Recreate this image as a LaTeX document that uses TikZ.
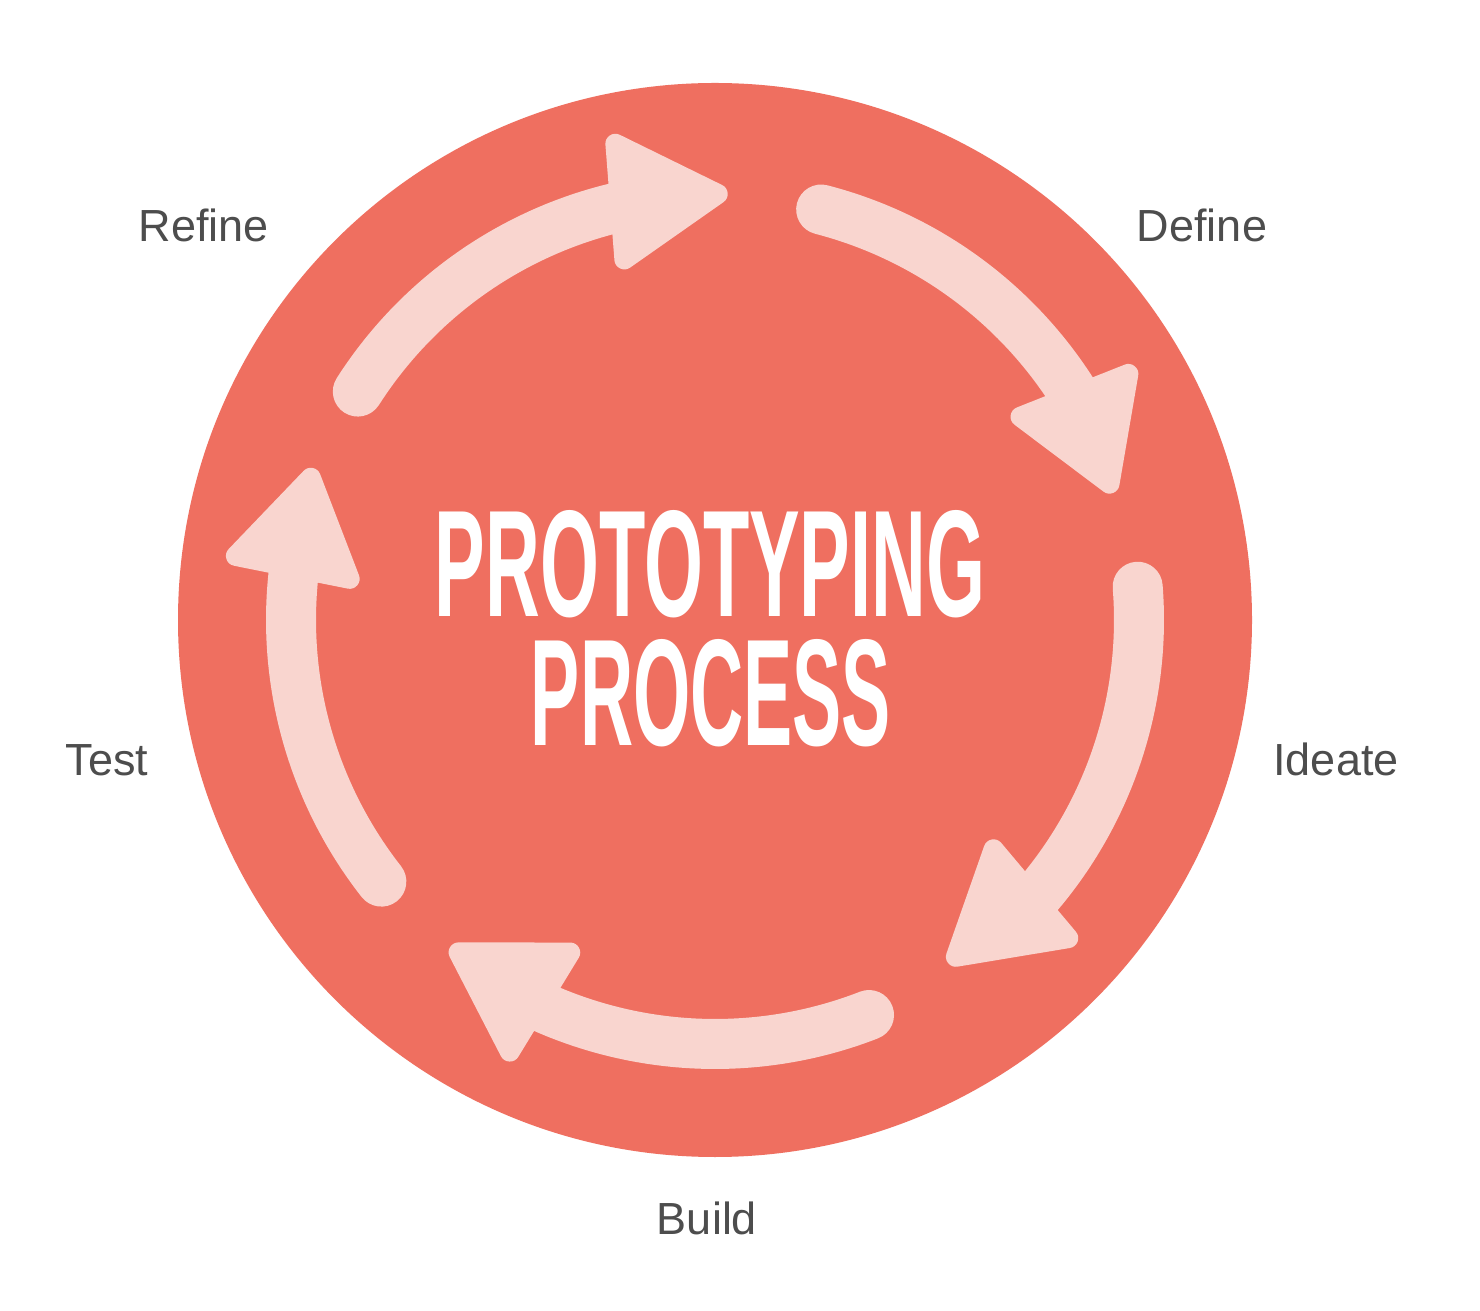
\documentclass[tikz,border=0pt]{standalone}
\usepackage{fontspec}
\usepackage{graphicx}
\setmainfont{Liberation Sans}
\usetikzlibrary{calc}
\definecolor{ringred}{HTML}{EF6F60}
\definecolor{palepink}{HTML}{F9D5CF}
\definecolor{labelgray}{HTML}{4D4D4D}
\begin{document}
\begin{tikzpicture}[x=1pt,y=1pt,
  lbl/.style={font=\fontsize{45}{54}\selectfont, text=labelgray, anchor=base, inner sep=0pt},
  titletext/.style={anchor=base, inner sep=0pt, text=white},
  band/.style={draw=palepink, line width=50pt, line cap=round},
  head/.style={fill=palepink, draw=palepink, line width=20pt, line join=round}]
\useasboundingbox (0,0) rectangle (1480,1310);
\fill[white] (0,0) rectangle (1480,1310);
\node[circle, fill=ringred, minimum size=1074pt, inner sep=0pt] (disc) at (715,690) {};
\begin{scope}[shift={(715,690)}]
\foreach \n/\aS/\aB/\rB/\aT/\rT in {1/147.4/103.6/430/88.3/427, 2/75.5/32.8/425/17.7/418, 3/4.5/-40.1/419/-55.8/415, 4/-68.7/-113.8/421/-129.0/421, 5/-141.9/-186.3/426/-200.7/430}{
  \coordinate (b\n) at (\aB:\rB);
  \coordinate (t\n) at (\aT:\rT);
  \coordinate (m\n) at ($(b\n)!6pt!(t\n)$);
  \draw[band] (\aS:424) arc[start angle=\aS, end angle=\aB-3, radius=424];
  \filldraw[head] (m\n) -- ($(m\n)!58pt!90:(t\n)$) -- ($(t\n)!10pt!(m\n)$) -- ($(m\n)!58pt!-90:(t\n)$) -- cycle;
}
\end{scope}
\node[titletext] (title1) at (710,693) {\resizebox{550pt}{106pt}{\bfseries PROTOTYPING}};
\node[titletext] (title2) at (711,565) {\resizebox{360pt}{106pt}{\bfseries PROCESS}};
\node[lbl] (refine) at (204,1068) {Refine};
\node[lbl] (define) at (1202,1068) {Define};
\node[lbl] (ideate) at (1336,534) {Ideate};
\node[lbl] (test) at (107,534) {Test};
\node[lbl] (build) at (707,76) {Build};
\end{tikzpicture}
\end{document}
